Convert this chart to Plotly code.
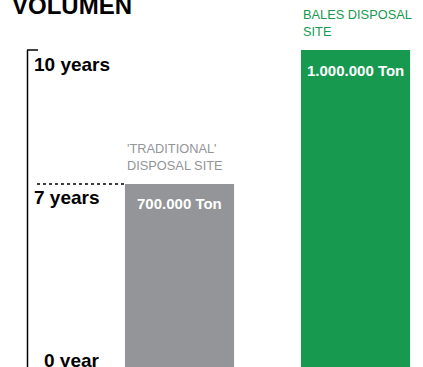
import plotly.graph_objects as go

categories = ["'TRADITIONAL'<br>DISPOSAL SITE", "BALES DISPOSAL<br>SITE"]
years = [7, 10]
volume_labels = ["700.000 Ton", "1.000.000 Ton"]
bar_colors = ["#939598", "#179a4f"]
tick_values = [10, 7, 0]
tick_labels = ["10 years", "7 years", "0 year"]

W, H = 423, 367
FONT = "Liberation Sans, Arial, sans-serif"

xs = [0, 1]
fig = go.Figure()
fig.add_trace(go.Bar(
    x=xs, y=years, width=0.62, marker=dict(color=bar_colors, line=dict(width=0)),
    hoverinfo="skip",
))

annotations = []
# category labels above bars and volume labels inside bars
for x, y, c, v, col in zip(xs, years, categories, volume_labels, bar_colors):
    annotations.append(dict(
        x=x - 0.31, y=y, xref="x", yref="y", text=c,
        showarrow=False, xanchor="left", yanchor="bottom", align="left",
        yshift=9, font=dict(family=FONT, size=12.8, color=col),
    ))
    annotations.append(dict(
        x=x, y=y, xref="x", yref="y", text=v,
        showarrow=False, xanchor="center", yanchor="middle",
        yshift=-20, font=dict(family=FONT, size=15, color="white", weight="bold"),
    ))
# tick labels
for v, t in zip(tick_values, tick_labels):
    if v == 0:
        annotations.append(dict(x=42 / W, y=0, xref="paper", yref="paper", text=t,
                                showarrow=False, xanchor="left", yanchor="bottom",
                                yshift=-6,
                                font=dict(family=FONT, size=19, color="black", weight="bold")))
    else:
        annotations.append(dict(x=32 / W, y=v, xref="paper", yref="y", text=t,
                                showarrow=False, xanchor="left", yanchor="middle",
                                yshift=-14,
                                font=dict(family=FONT, size=19, color="black", weight="bold")))
# title
annotations.append(dict(x=10 / W, y=1, xref="paper", yref="paper", text="VOLUMEN",
                        showarrow=False, xanchor="left", yanchor="bottom", yshift=-21,
                        font=dict(family=FONT, size=24, color="black", weight="bold")))

shapes = [
    dict(type="line", xref="paper", yref="y", x0=27.5 / W, x1=27.5 / W, y0=10, y1=0,
         line=dict(color="black", width=1.5)),
    dict(type="line", xref="paper", yref="y", x0=27 / W, x1=38 / W, y0=10, y1=10,
         line=dict(color="black", width=1.5)),
    dict(type="line", xref="paper", yref="y", x0=37 / W, x1=125 / W, y0=years[0], y1=years[0],
         line=dict(color="black", width=1.5, dash="dot")),
]

fig.update_layout(
    width=W, height=H, margin=dict(l=0, r=0, t=0, b=0),
    paper_bgcolor="white", plot_bgcolor="white", showlegend=False,
    xaxis=dict(range=[-1.02, 1.3835], visible=False, fixedrange=True),
    yaxis=dict(range=[2.90, 11.12], visible=False, fixedrange=True),
    annotations=annotations, shapes=shapes,
)
fig.write_html("out.html", config={"displayModeBar": False},
               post_script="document.body.style.margin='0';document.body.style.overflow='hidden';")
